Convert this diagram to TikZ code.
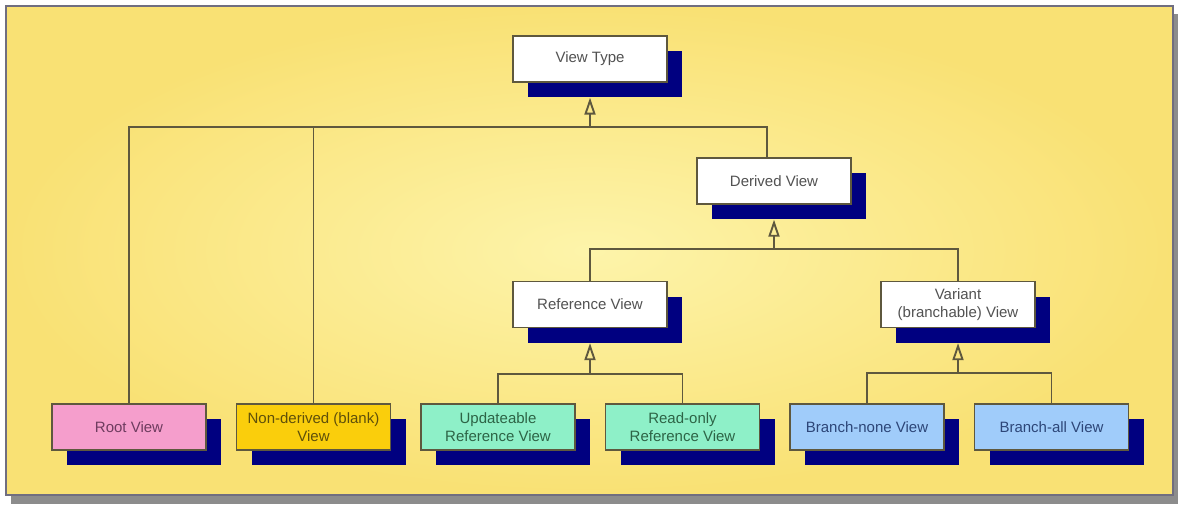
\documentclass[tikz,border=0pt]{standalone}
\usepackage{fontspec}
\setmainfont{Liberation Sans}
\usetikzlibrary{arrows.meta,positioning,shadows,backgrounds}

\definecolor{panel}{RGB}{249,225,116}
\definecolor{panellight}{RGB}{253,244,170}
\definecolor{framegray}{RGB}{112,110,128}
\definecolor{navyshadow}{RGB}{0,0,128}
\definecolor{edgegray}{RGB}{94,88,62}
\definecolor{rootpink}{RGB}{245,158,204}
\definecolor{blankgold}{RGB}{250,206,12}
\definecolor{refgreen}{RGB}{142,240,200}
\definecolor{branchblue}{RGB}{160,204,250}

\begin{document}
\begin{tikzpicture}
[x=1pt,y=-1pt,
node distance=29.2pt,
view/.style={rectangle,draw=edgegray,line width=1.3pt,fill=white,
  minimum width=154pt,minimum height=46pt,inner sep=1pt,align=center,
  font=\fontsize{15}{17.5}\selectfont,text=black!68,
  drop shadow={shadow xshift=15pt,shadow yshift=-15pt,fill=navyshadow,opacity=1}},
root/.style={view,fill=rootpink,text={rgb,255:red,110;green,60;blue,95}},
blank/.style={view,fill=blankgold,text={rgb,255:red,95;green,80;blue,10}},
ref/.style={view,fill=refgreen,text={rgb,255:red,45;green,100;blue,70}},
branch/.style={view,fill=branchblue,text={rgb,255:red,45;green,70;blue,120}},
line/.style={draw=edgegray,line width=1.9pt},
gen/.style={line,-{Triangle[open,length=17pt,width=11pt]}}]
\useasboundingbox (0,0) rectangle (1178,508);

% inner levels of the tree
\node[view] (view type) at (590,59) {View Type};
\node[view] (derived view) at (774,181) {Derived View};
\node[view] (reference view) at (590,304.5) {Reference View};
\node[view] (variant view) at (958,304.5) {Variant\\(branchable) View};

% leaves, one row
\node[root] (root view) at (129,427) {Root View};
\node[blank] (nonderived view) [right=of root view] {Non-derived (blank)\\View};
\node[ref] (updateable view) [right=of nonderived view] {Updateable\\Reference View};
\node[ref] (readonly view) [right=of updateable view] {Read-only\\Reference View};
\node[branch] (branch none) [right=of readonly view] {Branch-none View};
\node[branch] (branch all) [right=of branch none] {Branch-all View};

% arrow tips meet the bottom of each shadow
\coordinate (view type tip) at ([yshift=-15pt]view type.south);
\coordinate (derived tip) at ([yshift=-15pt]derived view.south);
\coordinate (reference tip) at ([yshift=-15pt]reference view.south);
\coordinate (variant tip) at ([yshift=-15pt]variant view.south);

\coordinate (top bus) at (590,127);
\coordinate (derived bus) at (774,249);
\coordinate (reference bus) at (590,374);
\coordinate (variant bus) at (958,373);

\begin{scope}[on background layer]
% yellow panel with its grey drop shadow
\fill[black!45] (11,14) rectangle (1178,504);
\shade[inner color=panellight,outer color=panel,draw=framegray,line width=1.5pt]
  (6,6) rectangle (1173,495);
\draw[line] (root view.north) |- (top bus) -| ([xshift=-7pt]derived view.north);
\draw[line] (nonderived view.north) -- (nonderived view.north |- top bus);
\draw[line] (reference view.north) |- (derived bus) -| (variant view.north);
\draw[line] (updateable view.north) |- (reference bus) -| (readonly view.north);
\draw[line] (branch none.north) |- (variant bus) -| (branch all.north);
\end{scope}
\draw[gen] (top bus) -- (view type tip);
\draw[gen] (derived bus) -- (derived tip);
\draw[gen] (reference bus) -- (reference tip);
\draw[gen] (variant bus) -- (variant tip);
\end{tikzpicture}
\end{document}
